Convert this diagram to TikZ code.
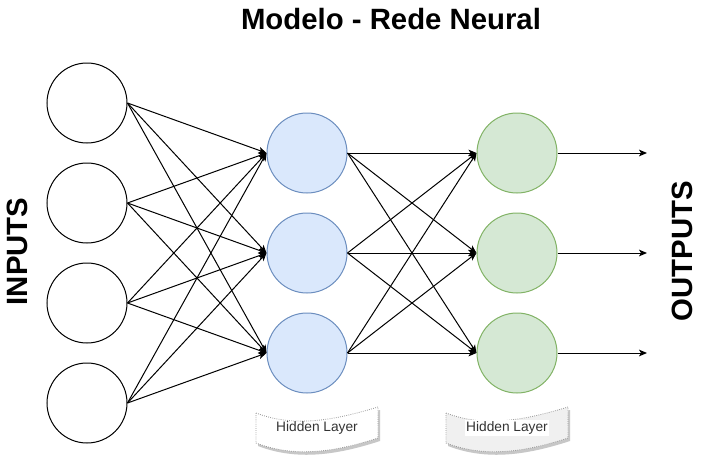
\documentclass[tikz,border=0pt]{standalone}
\usepackage{fontspec}
\setmainfont{Liberation Sans}
\usetikzlibrary{arrows.meta}
\definecolor{bluefill}{HTML}{DAE8FC}
\definecolor{bluedraw}{HTML}{6C8EBF}
\definecolor{greenfill}{HTML}{D5E8D4}
\definecolor{greendraw}{HTML}{82B366}
\definecolor{tapeline}{HTML}{999999}
\definecolor{tapetext}{HTML}{333333}
\tikzset{
  neuron/.style={circle, minimum size=60pt, inner sep=0pt, line width=0.75pt},
  inneuron/.style={neuron, draw=black, fill=white},
  hidneuron/.style={neuron, draw=bluedraw, fill=bluefill},
  hidtwo/.style={neuron, draw=greendraw, fill=greenfill},
  link/.style={line width=0.75pt, -{Stealth[length=6pt,width=5pt,inset=1.5pt]}},
  bigtext/.style={font=\bfseries\fontsize{22}{26}\selectfont, inner sep=0pt},
  tapelabel/.style={font=\fontsize{10.3}{12}\selectfont, text=tapetext, inner sep=1pt},
}
\begin{document}
\begin{tikzpicture}[x=0.75pt, y=-0.75pt]
\useasboundingbox (0,0) rectangle (701,458);
\fill[white] (0,0) rectangle (701,458);

% title and side labels
\node[bigtext] (title) at (391,19) {Modelo - Rede Neural};
\node[bigtext, rotate=90] (inputs) at (17.5,251.5) {INPUTS};
\node[bigtext, rotate=90] (outputs) at (682.5,251) {OUTPUTS};

% neurons
\foreach \i/\y in {1/103,2/203,3/303,4/403}
  \node[inneuron] (i\i) at (87,\y) {};
\foreach \i/\y in {1/153,2/253,3/353}{
  \node[hidneuron] (h\i) at (307,\y) {};
  \node[hidtwo] (g\i) at (517,\y) {};
  \coordinate (o\i) at (647,\y);
}

% connections
\foreach \a in {1,2,3,4}
  \foreach \b in {1,2,3}
    \draw[link] (i\a.east) -- (h\b.west);
\foreach \a in {1,2,3}
  \foreach \b in {1,2,3}
    \draw[link] (h\a.east) -- (g\b.west);
\foreach \a in {1,2,3}
  \draw[link] (g\a.east) -- (o\a);

% tapes
\foreach \x/\fc in {256/white,446/black!6}{
  \begin{scope}[shift={(\x,413)}]
    \fill[black!22] (2,3) .. controls (41,18) and (81,10) .. (124,-3)
       -- (124,28) .. controls (81,42) and (41,48) .. (2,33) -- cycle;
    \filldraw[fill=\fc, draw=tapeline, densely dotted, line width=0.6pt]
       (0,0) .. controls (39,15) and (79,7) .. (122,-6)
       -- (122,25) .. controls (79,39) and (39,45) .. (0,30) -- cycle;
  \end{scope}
}
\node[tapelabel] (t1) at (317,428) {Hidden Layer};
\node[tapelabel, fill=white] (t2) at (507,428) {Hidden Layer};
\end{tikzpicture}
\end{document}
